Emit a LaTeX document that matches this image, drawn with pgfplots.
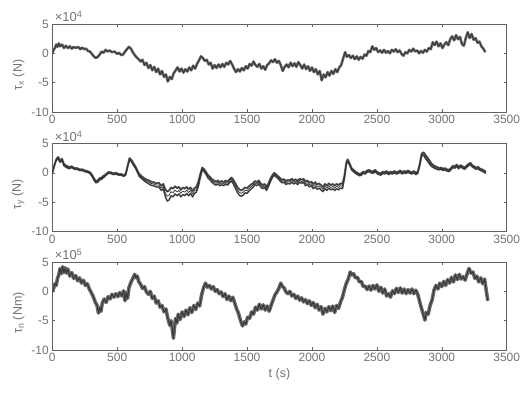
\documentclass[border=0pt]{standalone}
\usepackage{pgfplots}
\pgfplotsset{compat=1.18}
\usepackage{pgfplotstable}
\usepackage{fontspec}
\setmainfont{Liberation Sans}
\definecolor{axgray}{gray}{0.38}
\definecolor{txtgray}{gray}{0.45}
\definecolor{curve}{gray}{0.2}
\definecolor{halo}{gray}{0.42}

\pgfplotstableread{
t y
0 0.0
10 0.6
20 0.9
30 1.5
40 1.1
50 1.7
60 1.2
75 1.5
90 0.9
105 1.3
120 0.9
135 1.2
150 0.8
165 1.1
180 0.9
200 1.1
215 0.7
230 1.0
245 0.7
260 0.8
275 0.4
290 0.3
305 -0.1
320 -0.5
335 -0.8
350 -0.6
365 -0.2
380 0.3
395 0.1
410 0.6
425 0.3
440 0.5
460 0.2
480 0.3
500 -0.1
515 0.1
530 -0.3
545 -0.2
560 0.3
575 0.7
590 1.1
605 0.8
620 0.2
635 -0.3
650 -0.7
665 -1.0
680 -1.4
695 -1.1
710 -2.0
725 -1.6
740 -2.5
755 -2.0
770 -2.9
785 -2.3
800 -3.2
815 -2.6
830 -3.6
845 -3.0
860 -4.0
875 -3.6
890 -4.8
905 -4.0
920 -4.4
935 -3.4
950 -2.9
965 -2.4
980 -3.1
995 -2.6
1010 -3.3
1025 -2.7
1040 -3.1
1055 -2.4
1070 -2.9
1085 -2.1
1100 -2.6
1115 -1.8
1130 -1.2
1145 -0.5
1160 -0.8
1175 -1.3
1190 -1.1
1205 -1.9
1220 -1.6
1235 -2.6
1250 -2.0
1265 -2.5
1280 -1.9
1295 -2.4
1310 -1.8
1325 -2.3
1340 -1.6
1355 -1.9
1370 -1.3
1385 -1.9
1400 -2.6
1415 -3.2
1430 -2.7
1445 -3.1
1460 -2.5
1475 -2.9
1490 -2.2
1505 -2.6
1520 -1.8
1535 -2.1
1550 -1.4
1565 -2.0
1580 -2.3
1595 -1.8
1610 -2.6
1625 -2.2
1640 -2.8
1655 -2.0
1670 -1.7
1685 -1.2
1700 -1.5
1715 -1.0
1730 -1.6
1745 -1.3
1760 -2.0
1775 -3.0
1790 -2.3
1805 -1.9
1820 -2.4
1835 -1.6
1850 -2.2
1865 -1.7
1880 -2.3
1895 -1.5
1910 -2.0
1925 -2.6
1940 -1.9
1955 -2.7
1970 -2.2
1985 -3.0
2000 -2.4
2015 -3.2
2030 -2.7
2045 -3.6
2060 -3.0
2075 -4.6
2090 -3.6
2105 -4.1
2120 -3.2
2135 -3.8
2150 -3.0
2165 -3.5
2180 -2.7
2195 -3.2
2210 -2.4
2225 -2.0
2240 -0.9
2255 0.2
2270 -0.6
2285 -0.3
2300 -0.8
2315 -0.4
2330 -1.0
2345 -0.5
2360 -1.1
2375 -0.6
2390 -0.9
2405 -0.2
2420 -0.4
2435 0.4
2450 0.2
2465 1.2
2480 0.6
2495 0.9
2510 0.2
2525 0.5
2540 0.1
2555 0.6
2570 0.1
2585 0.4
2600 0.0
2615 0.6
2630 0.3
2645 0.7
2660 0.2
2675 0.5
2690 -0.1
2705 -0.4
2720 0.2
2735 0.0
2750 0.6
2765 0.3
2780 0.8
2795 0.3
2810 0.5
2825 0.0
2840 0.4
2855 0.1
2870 0.6
2885 0.3
2900 0.9
2915 0.7
2930 1.9
2945 1.4
2960 2.0
2975 1.2
2990 1.7
3005 0.9
3020 1.5
3035 1.9
3050 1.4
3065 2.4
3080 2.9
3095 2.2
3110 3.1
3125 2.4
3140 2.8
3155 1.6
3170 1.3
3185 2.6
3200 3.6
3215 2.6
3230 3.3
3245 2.3
3260 2.6
3275 1.8
3290 2.0
3305 1.2
3320 0.8
3335 0.2
}\tabx

\pgfplotstableread{
t y s
0 0.0 0
15 1.2 0
30 2.3 0.2
45 2.7 0.3
60 2.1 0.3
75 2.4 0.3
90 1.5 0.3
110 1.2 0.3
130 1.0 0.3
150 1.1 0.2
170 0.8 0.2
190 0.8 0.2
210 0.6 0.2
230 0.6 0.2
250 0.4 0.2
270 0.3 0.2
290 0.1 0.2
305 -0.3 0.3
320 -0.9 0.3
335 -1.4 0.3
350 -1.3 0.3
365 -0.9 0.3
380 -0.8 0.3
395 -0.5 0.3
410 -0.3 0.2
430 0.1 0.2
450 0.1 0.2
470 -0.1 0.2
490 0.0 0.2
510 -0.2 0.2
530 -0.2 0.2
550 -0.4 0.2
565 -0.2 0.2
580 1.2 0.2
595 2.5 0.3
610 2.2 0.3
625 1.6 0.3
640 1.1 0.3
655 0.4 0.3
670 -0.2 0.4
685 -0.5 0.4
700 -0.8 0.4
715 -1.0 0.5
730 -1.2 0.5
745 -1.3 0.6
760 -1.5 0.6
780 -1.6 0.6
800 -1.8 0.6
820 -1.7 0.7
840 -2.2 0.8
855 -1.9 0.8
870 -2.8 1.2
885 -3.2 1.6
900 -3.0 1.6
915 -2.5 1.4
930 -2.7 1.4
945 -2.3 1.3
960 -2.6 1.3
975 -2.4 1.2
990 -2.9 1.2
1005 -2.5 1.2
1020 -2.7 1.2
1035 -2.4 1.1
1050 -2.8 1.1
1065 -2.5 1.0
1080 -3.1 1.0
1095 -2.6 0.9
1110 -2.4 0.9
1125 -1.5 0.8
1140 -0.2 0.6
1155 0.9 0.4
1170 0.6 0.4
1185 0.1 0.4
1200 -0.4 0.5
1215 -0.7 0.5
1230 -1.1 0.5
1245 -1.3 0.6
1260 -1.5 0.6
1275 -1.3 0.6
1290 -1.6 0.6
1305 -1.4 0.6
1320 -1.6 0.6
1335 -1.3 0.6
1350 -1.5 0.6
1365 -1.1 0.6
1380 -0.8 0.6
1395 -1.2 0.7
1410 -1.8 0.8
1425 -2.4 0.9
1440 -2.8 1.0
1455 -3.0 1.0
1470 -2.8 1.0
1485 -2.5 0.9
1500 -2.6 0.9
1515 -2.3 0.8
1530 -2.0 0.8
1545 -1.8 0.7
1560 -1.4 0.6
1575 -1.6 0.6
1590 -1.3 0.6
1605 -1.8 0.6
1620 -2.1 0.6
1635 -1.9 0.6
1650 -2.4 0.6
1665 -1.8 0.5
1680 -1.0 0.5
1695 -0.4 0.4
1710 0.0 0.4
1725 -0.3 0.4
1740 -0.6 0.4
1755 -0.9 0.5
1770 -1.2 0.5
1785 -1.1 0.5
1800 -1.4 0.6
1815 -1.2 0.6
1830 -1.3 0.6
1845 -1.0 0.6
1860 -1.3 0.6
1875 -1.1 0.6
1890 -1.4 0.6
1905 -1.0 0.6
1920 -1.2 0.6
1935 -1.0 0.6
1950 -1.5 0.7
1965 -1.3 0.7
1980 -1.7 0.7
1995 -1.5 0.7
2010 -1.9 0.8
2025 -1.6 0.8
2040 -2.0 0.8
2055 -1.8 0.8
2070 -2.1 0.8
2085 -2.4 0.8
2100 -1.9 0.8
2115 -2.2 0.8
2130 -1.8 0.8
2145 -2.1 0.8
2160 -1.9 0.8
2175 -2.2 0.8
2190 -1.9 0.8
2205 -2.1 0.8
2220 -1.8 0.8
2235 -1.9 0.8
2250 -0.5 0.5
2265 1.8 0.3
2275 2.3 0.3
2290 1.6 0.3
2305 0.8 0.3
2320 0.5 0.3
2335 0.2 0.3
2350 0.0 0.3
2365 -0.2 0.3
2380 -0.1 0.3
2395 0.2 0.3
2410 0.1 0.3
2425 0.4 0.3
2440 0.5 0.3
2455 0.3 0.3
2470 0.2 0.3
2485 0.5 0.3
2500 0.2 0.3
2515 0.0 0.3
2530 -0.1 0.3
2545 0.2 0.3
2560 0.1 0.3
2575 0.3 0.3
2590 0.0 0.3
2605 0.2 0.3
2620 0.1 0.3
2635 0.3 0.3
2650 0.1 0.3
2665 0.2 0.3
2680 0.4 0.3
2695 0.1 0.3
2710 0.3 0.3
2725 0.2 0.3
2740 0.4 0.3
2755 0.2 0.3
2770 0.1 0.3
2785 0.3 0.3
2800 0.0 0.3
2815 0.2 0.3
2830 1.5 0.3
2845 3.3 0.4
2860 3.5 0.5
2875 3.0 0.6
2890 2.6 0.6
2905 2.1 0.6
2920 1.6 0.5
2935 1.3 0.4
2950 1.1 0.4
2965 1.0 0.4
2980 0.8 0.3
2995 0.9 0.3
3010 0.7 0.3
3025 0.8 0.3
3040 0.6 0.3
3055 0.5 0.3
3070 0.8 0.3
3085 1.2 0.3
3100 1.1 0.3
3115 1.4 0.3
3130 1.0 0.3
3145 1.3 0.3
3160 1.1 0.3
3175 0.9 0.3
3190 1.2 0.3
3205 1.5 0.3
3220 1.7 0.3
3235 1.3 0.3
3250 1.1 0.3
3265 0.9 0.3
3280 1.0 0.3
3295 0.7 0.3
3310 0.6 0.3
3325 0.4 0.3
3340 0.2 0.3
}\taby

\pgfplotstableread{
t y
0 -0.1
10 0.5
20 1.3
30 1.0
40 2.2
50 2.8
60 3.9
70 3.0
80 4.2
90 3.2
100 4.0
110 3.1
120 3.8
135 2.6
150 3.2
165 2.2
180 2.7
195 1.8
210 2.3
225 1.4
240 1.9
255 1.0
270 1.3
285 0.4
300 -0.2
315 -0.9
330 -1.8
345 -2.4
355 -3.7
365 -2.8
375 -3.4
385 -2.0
400 -1.3
415 -1.9
430 -0.9
445 -1.3
460 -0.5
475 -1.0
490 -0.4
505 -0.9
520 -0.2
535 -0.8
550 0.1
560 -1.6
570 -0.2
580 -1.2
590 0.6
605 1.5
620 2.2
635 2.9
645 2.3
655 2.6
665 1.7
680 1.2
695 0.5
710 0.8
725 -0.1
740 -0.5
755 0.0
770 -1.2
785 -0.8
800 -2.0
815 -1.6
830 -2.7
845 -2.4
860 -3.5
875 -3.0
890 -4.6
905 -5.8
915 -5.0
925 -6.6
933 -8.0
941 -6.2
950 -4.6
960 -5.4
970 -3.9
985 -4.8
1000 -3.5
1015 -4.3
1030 -3.2
1045 -4.0
1060 -2.8
1075 -3.6
1090 -2.4
1105 -3.1
1120 -2.0
1135 -2.5
1150 -0.6
1165 0.6
1180 1.4
1195 0.7
1210 1.0
1225 0.4
1240 0.8
1255 0.0
1270 0.3
1285 -0.4
1300 -0.1
1315 -0.9
1330 -0.4
1345 -1.4
1360 -0.8
1375 -1.6
1390 -1.0
1405 -2.0
1420 -3.0
1435 -3.8
1450 -5.0
1465 -5.9
1478 -5.2
1490 -5.6
1505 -4.4
1520 -4.6
1535 -3.5
1550 -3.9
1565 -2.7
1580 -3.2
1595 -2.2
1610 -3.0
1625 -2.3
1640 -3.2
1655 -2.5
1670 -3.4
1685 -2.4
1700 -1.5
1715 -0.6
1730 -0.1
1745 0.5
1760 1.4
1770 0.9
1785 0.6
1800 -0.1
1815 -0.4
1830 0.0
1845 -0.8
1860 -0.5
1875 -1.2
1890 -0.8
1905 -1.5
1920 -1.1
1935 -1.8
1950 -1.4
1965 -2.1
1980 -1.6
1995 -2.4
2010 -1.9
2025 -2.8
2040 -2.2
2055 -3.2
2070 -2.6
2085 -3.9
2100 -2.9
2115 -3.5
2130 -2.6
2145 -3.3
2160 -2.5
2175 -3.6
2190 -2.4
2205 -2.9
2220 -1.8
2235 -1.0
2250 0.3
2265 1.4
2280 2.1
2295 3.3
2305 2.8
2320 3.0
2335 2.3
2350 2.4
2365 1.6
2380 1.7
2395 0.8
2410 0.9
2425 0.3
2440 0.9
2455 0.2
2470 1.0
2485 0.4
2500 1.1
2515 0.0
2530 0.7
2545 -0.3
2560 0.4
2575 -0.8
2590 -0.4
2605 -1.0
2620 0.1
2635 -0.4
2650 0.5
2665 -0.2
2680 0.6
2695 -0.3
2710 0.4
2725 -0.4
2740 0.3
2755 -0.3
2770 0.4
2785 -0.4
2800 0.2
2815 -0.5
2830 -1.8
2845 -3.0
2860 -4.1
2870 -4.9
2880 -3.6
2895 -3.9
2910 -2.4
2925 -1.5
2940 0.2
2955 1.0
2970 0.4
2985 1.4
3000 0.8
3015 1.7
3030 1.0
3045 2.0
3060 1.4
3075 2.4
3090 1.6
3105 2.8
3120 2.0
3135 2.9
3150 2.1
3165 2.5
3180 1.9
3195 3.0
3210 3.9
3225 3.1
3240 3.3
3255 2.2
3270 2.6
3285 1.6
3300 2.3
3315 1.3
3330 2.1
3345 -0.3
3355 -1.6
}\tabn

\pgfplotsset{
  panel/.style={
    scale only axis, width=454.4pt, height=88pt,
    xmin=0, xmax=3500, ymin=-10, ymax=5,
    xtick={0,500,1000,1500,2000,2500,3000,3500},
    xticklabels={0,500,1000,1500,2000,2500,3000,3500},
    ytick={-10,-5,0,5}, yticklabels={-10,-5,0,5},
    tick align=inside, major tick length=3pt,
    axis line style={axgray, line width=0.6pt},
    tick style={axgray, line width=0.5pt},
    ticklabel style={text=txtgray, font=\fontsize{12}{13}\selectfont},
    label style={text=txtgray, font=\fontsize{12.5}{14}\selectfont},
    ylabel style={xshift=-7pt},
    /pgf/number format/assume math mode=true,
    clip=true,
  },
  exlabel/.style={after end axis/.append code={
    \node[anchor=south west, inner sep=0pt, text=txtgray,
      font=\fontsize{13}{14}\selectfont] at (rel axis cs:0.005,1.02) {×10\textsuperscript{#1}};}},
}

\begin{document}
\begin{tikzpicture}
\begin{axis}[panel, exlabel=4, at={(52.3pt,280pt)}, anchor=south west,
  ylabel={τ\textsubscript{x} (N)}]
\addplot[halo, line width=2.6pt, line join=round] table[x=t,y=y]{\tabx};
\addplot[curve, line width=0.8pt, line join=round] table[x=t,y=y]{\tabx};
\end{axis}
\begin{axis}[panel, exlabel=4, at={(52.3pt,160.5pt)}, anchor=south west,
  ylabel={τ\textsubscript{y} (N)}]
\addplot[halo, line width=2pt, line join=round] table[x=t,y=y]{\taby};
\addplot[halo, line width=1.6pt, line join=round] table[x=t,y expr=\thisrow{y}-\thisrow{s}]{\taby};
\addplot[curve, line width=0.7pt, line join=round] table[x=t,y=y]{\taby};
\addplot[curve, line width=0.7pt, line join=round] table[x=t,y expr=\thisrow{y}-0.5*\thisrow{s}]{\taby};
\addplot[curve, line width=0.7pt, line join=round] table[x=t,y expr=\thisrow{y}-\thisrow{s}]{\taby};
\end{axis}
\begin{axis}[panel, exlabel=5, at={(52.3pt,42pt)}, anchor=south west,
  ylabel={τ\textsubscript{n} (Nm)}, xlabel={t (s)}]
\addplot[halo, line width=3.6pt, line join=round] table[x=t,y=y]{\tabn};
\addplot[curve, line width=0.9pt, line join=round] table[x=t,y=y]{\tabn};
\end{axis}
\pgfresetboundingbox
\path[use as bounding box] (0pt,0pt) rectangle (521pt,392pt);
\end{tikzpicture}
\end{document}
